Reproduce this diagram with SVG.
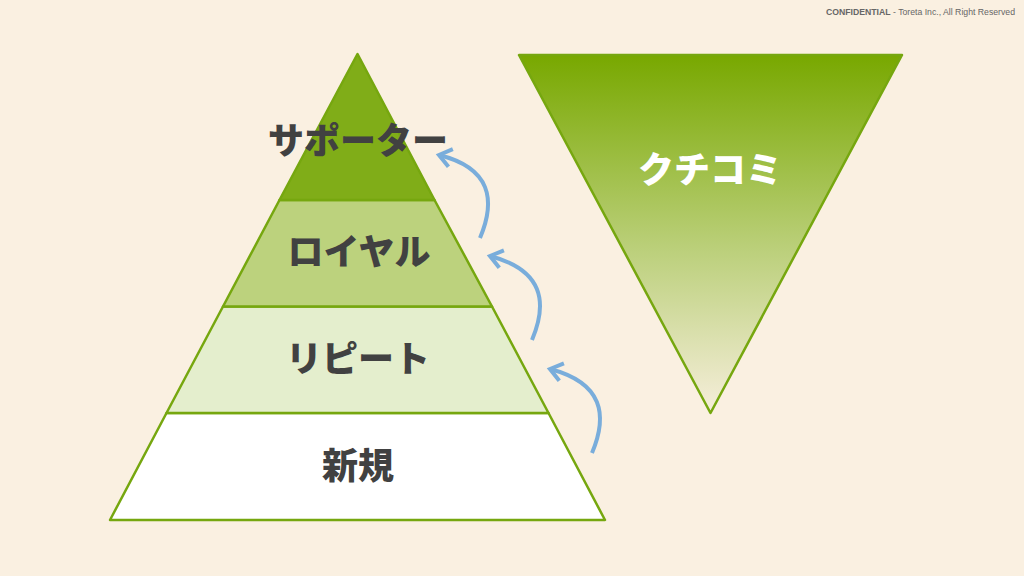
<svg xmlns="http://www.w3.org/2000/svg" width="1024" height="576" viewBox="0 0 1024 576">
<defs>
<linearGradient id="g1" x1="0" y1="0" x2="0" y2="1">
<stop offset="0" stop-color="#78a800"/>
<stop offset="0.55" stop-color="#bcd07c"/>
<stop offset="1" stop-color="#f6eedb"/>
</linearGradient>
<marker id="ah" markerWidth="24" markerHeight="24" refX="20" refY="12" orient="auto" markerUnits="userSpaceOnUse" viewBox="0 0 24 24">
<path d="M8,3 L20,12 L8,21" fill="none" stroke="#79addb" stroke-width="4" stroke-linecap="butt" stroke-linejoin="miter"/>
</marker>
<style>
.band{stroke:#76a70f;stroke-width:2.5;stroke-linejoin:round}
.lbl{font-family:"Noto Sans CJK JP","Noto Sans CJK SC",sans-serif;font-weight:900;font-size:36px;text-anchor:middle;fill:#414141}
.arr{fill:none;stroke:#79addb;stroke-width:4;marker-end:url(#ah)}
</style>
</defs>
<rect width="1024" height="576" fill="#faf0e1"/>
<text x="1015" y="15" font-family="Liberation Sans, Arial, sans-serif" font-size="8.7" fill="#666" text-anchor="end"><tspan font-weight="700">CONFIDENTIAL</tspan> - Toreta Inc., All Right Reserved</text>
<g id="pyramid">
<g id="band-new"><polygon class="band" points="166.5,413 548.5,413 605,520 110,520" fill="#ffffff"/><text class="lbl" x="358" y="479">新規</text></g>
<g id="band-repeat"><polygon class="band" points="223,306.5 492,306.5 548.5,413 166.5,413" fill="#e4eecd"/><text class="lbl" x="358" y="372">リピート</text></g>
<g id="band-loyal"><polygon class="band" points="279.5,200 434.5,200 492,306.5 223,306.5" fill="#bcd27d"/><text class="lbl" x="359" y="265">ロイヤル</text></g>
<g id="band-supporter"><polygon class="band" points="357.5,54 434.5,200 279.5,200" fill="#80ad18"/><text class="lbl" x="358" y="154">サポーター</text></g>
</g>
<g id="kuchikomi">
<polygon points="519,55 902,55 710.5,413" fill="url(#g1)" stroke="#76a70f" stroke-width="2.5" stroke-linejoin="round"/>
<text class="lbl" x="710" y="183" style="fill:#ffffff">クチコミ</text>
</g>
<g id="connectors">
<path class="arr" d="M480,238 C496,200 491,168 439,155"/>
<path class="arr" d="M532,340 C548,302 543,270 490,256"/>
<path class="arr" d="M592,453 C608,415 603,383 550,369"/>
</g>
</svg>
